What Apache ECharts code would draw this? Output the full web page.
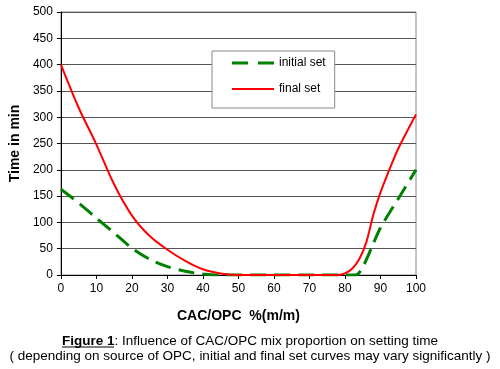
<!DOCTYPE html>
<html>
<head>
<meta charset="utf-8">
<script src="https://cdn.jsdelivr.net/npm/echarts@6/dist/echarts.min.js"></script>
<style>
html,body{margin:0;padding:0;background:#fff;}
#chart{width:500px;height:369px;}
</style>
</head>
<body>
<div id="chart"></div>
<script>
// Data
const xInitial = [0,5,10,15,20,25,30,35,40,45,50,60,70,80,83,85,88,90,95,100];
const yInitial = [163,137,108,80,51,30,16,7,2,0,0,0,0,0,0,15,60,90,145,200];
const xFinal = [0,5,10,15,20,25,30,35,40,45,50,60,70,78,80,82,84,86,88,90,92,95,100];
const yFinal = [400,318,248,172,113,74,48,27,11,3,0,0,0,0,3,12,30,62,115,157,192,240,305];
const seriesNames = ['initial set','final set'];
const xTitle = 'CAC/OPC  %(m/m)';
const yTitle = 'Time in min';
const captionBold = 'Figure 1';
const captionRest = ': Influence of CAC/OPC mix proportion on setting time';
const captionLine2 = '( depending on source of OPC, initial and final set curves may vary significantly )';

const pairs = (xs, ys) => xs.map((x, i) => [x, ys[i]]);
const FONT = 'Liberation Sans, Arial, sans-serif';

const chart = echarts.init(document.getElementById('chart'), null, {renderer:'canvas'});
chart.setOption({
  animation: false,
  backgroundColor: '#fff',
  textStyle: {fontFamily: FONT},
  grid: {left: 53, right: 84, top: 12, bottom: 94, show: true, borderColor: '#888', borderWidth: 1},
  xAxis: {
    type: 'value', min: 0, max: 100, interval: 10,
    name: xTitle, nameLocation: 'middle', nameGap: 34,
    nameTextStyle: {fontSize: 14, fontWeight: 'bold', color: '#000', fontFamily: FONT},
    axisLine: {show: true, lineStyle: {color: '#000', width: 1}},
    axisTick: {show: true, length: 4, lineStyle: {color: '#000'}},
    axisLabel: {fontSize: 12, color: '#000', margin: 8, fontFamily: FONT},
    splitLine: {show: false}
  },
  yAxis: {
    type: 'value', min: 0, max: 500, interval: 50,
    name: yTitle, nameLocation: 'middle', nameGap: 36, nameRotate: 90,
    nameTextStyle: {fontSize: 14, fontWeight: 'bold', color: '#000', fontFamily: FONT},
    axisLine: {show: true, lineStyle: {color: '#000', width: 1}},
    axisTick: {show: true, length: 4, lineStyle: {color: '#000'}},
    axisLabel: {fontSize: 12, color: '#000', margin: 8, fontFamily: FONT},
    splitLine: {show: true, lineStyle: {color: '#555', width: 1}}
  },
  legend: {
    orient: 'vertical', left: 212, top: 51,
    itemWidth: 42, itemHeight: 14, itemGap: 14,
    padding: [6, 9, 13, 20],
    backgroundColor: '#fff', borderColor: '#888', borderWidth: 1,
    textStyle: {fontSize: 12, color: '#000', fontFamily: FONT},
    data: [
      {name: seriesNames[0], icon: 'path://M0,0h16v3h-16zM26,0h16v3h-16z'},
      {name: seriesNames[1], icon: 'path://M0,0h42v2h-42z'}
    ]
  },
  series: [
    {
      name: seriesNames[0], type: 'line', data: pairs(xInitial, yInitial),
      smooth: 0.3, showSymbol: false, symbol: 'none',
      lineStyle: {color: '#008000', width: 3, type: [16, 8]},
      itemStyle: {color: '#008000'}, z: 3
    },
    {
      name: seriesNames[1], type: 'line', data: pairs(xFinal, yFinal),
      smooth: 0.3, showSymbol: false, symbol: 'none',
      lineStyle: {color: '#ff0000', width: 2},
      itemStyle: {color: '#ff0000'}, z: 4
    }
  ],
  graphic: [
    {
      type: 'text', left: 'center', top: 334,
      style: {
        text: '{b|' + captionBold + '}' + captionRest,
        rich: {b: {fontWeight: 'bold', fontSize: 13.5, fontFamily: FONT, fill: '#000'}},
        font: '13.5px ' + FONT, fill: '#000'
      }
    },
    {
      type: 'line', silent: true,
      shape: {x1: 62, y1: 347, x2: 114, y2: 347},
      style: {stroke: '#000', lineWidth: 1}
    },
    {
      type: 'text', left: 'center', top: 349,
      style: {text: captionLine2, font: '13.5px ' + FONT, fill: '#000'}
    }
  ]
});
</script>
</body>
</html>
